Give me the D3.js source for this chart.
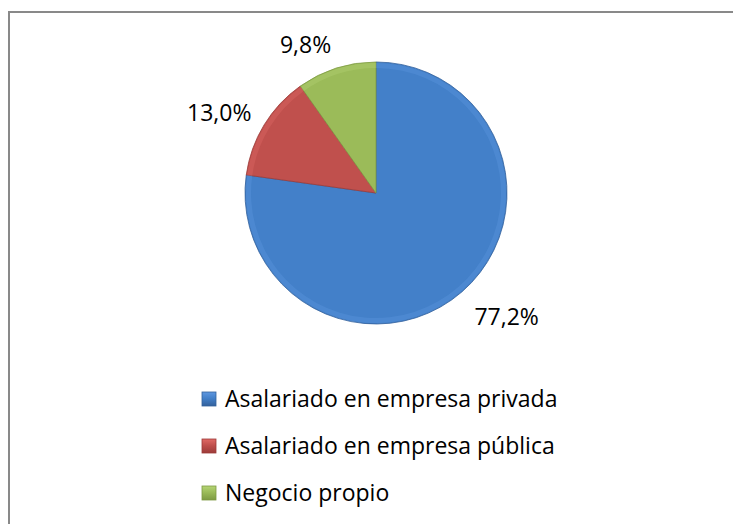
<!DOCTYPE html>
<html>
<head>
<meta charset="utf-8">
<script src="https://cdn.jsdelivr.net/npm/d3@7"></script>
<style>
  body { margin: 0; background: #fff; }
  svg { display: block; font-family: "Open Sans", "Noto Sans", sans-serif; }
</style>
</head>
<body>
<svg id="chart"></svg>
<script>
// data
var categories = ["Asalariado en empresa privada", "Asalariado en empresa pública", "Negocio propio"];
var values = [77.2, 13.0, 9.8];
var labels = ["77,2%", "13,0%", "9,8%"];
var colors = ["#4380c9", "#c0504d", "#9bbb59"];
var darkColors = ["#33619c", "#9c3b39", "#7d9a43"];
var lightColors = ["#5e97e0", "#e06a66", "#b5d575"];

var dimensions = {
    width: 733,
    height: 524,
    cx: 376,
    cy: 193,
    radius: 131
};

var svg = d3.select("#chart")
    .attr("width", dimensions.width)
    .attr("height", dimensions.height);

// chart frame
svg.append("rect")
    .attr("x", 9)
    .attr("y", 12)
    .attr("width", 740)
    .attr("height", 540)
    .attr("fill", "white")
    .attr("stroke", "#898989")
    .attr("stroke-width", 2);

var defs = svg.append("defs");
colors.forEach(function(c, i) {
    var g = defs.append("linearGradient")
        .attr("id", "grad" + i)
        .attr("x1", 0).attr("y1", 0).attr("x2", 0).attr("y2", 1);
    g.append("stop").attr("offset", "0%").attr("stop-color", lightColors[i]);
    g.append("stop").attr("offset", "45%").attr("stop-color", c);
    g.append("stop").attr("offset", "100%").attr("stop-color", darkColors[i]);
});

var data = categories.map(function(d, i) {
    return { name: d, value: values[i], label: labels[i], i: i };
});

var pie = d3.pie().sort(null).value(d => d.value);
var arc = d3.arc().innerRadius(0).outerRadius(dimensions.radius);
var arcs = pie(data);

var g = svg.append("g")
    .attr("transform", `translate(${dimensions.cx}, ${dimensions.cy})`);

g.selectAll("path.slice")
    .data(arcs)
    .enter()
    .append("path")
    .attr("class", "slice")
    .attr("d", arc)
    .attr("fill", d => colors[d.data.i])
    .attr("stroke", d => darkColors[d.data.i])
    .attr("stroke-width", 0.8);

// soft bevel rim
var rim = d3.arc().innerRadius(dimensions.radius - 6).outerRadius(dimensions.radius - 1);
g.selectAll("path.rim")
    .data(arcs)
    .enter()
    .append("path")
    .attr("class", "rim")
    .attr("d", rim)
    .attr("fill", d => lightColors[d.data.i])
    .attr("opacity", 0.35);

// data labels, placed outside the pie
var labelArc = d3.arc().innerRadius(dimensions.radius + 42).outerRadius(dimensions.radius + 42);
var labelOffsets = [[17, 2], [-9, 18], [-18, 25]];
g.selectAll("text.lbl")
    .data(arcs)
    .enter()
    .append("text")
    .attr("class", "lbl")
    .attr("x", d => labelArc.centroid(d)[0] + labelOffsets[d.data.i][0])
    .attr("y", d => labelArc.centroid(d)[1] + labelOffsets[d.data.i][1])
    .attr("text-anchor", "middle")
    .attr("font-size", "23px")
    .attr("fill", "#000")
    .text(d => d.data.label);

// legend
var legend = svg.selectAll(".legend")
    .data(data)
    .enter()
    .append("g")
    .attr("class", "legend")
    .attr("transform", (d, i) => `translate(202, ${392 + i * 47})`);

legend.append("rect")
    .attr("width", 14)
    .attr("height", 14)
    .attr("fill", d => `url(#grad${d.i})`)
    .attr("stroke", d => darkColors[d.i])
    .attr("stroke-width", 0.8);

legend.append("text")
    .attr("x", 23)
    .attr("y", 7)
    .attr("dy", "0.35em")
    .attr("font-size", "23px")
    .attr("fill", "#000")
    .text(d => d.name);
</script>
</body>
</html>
